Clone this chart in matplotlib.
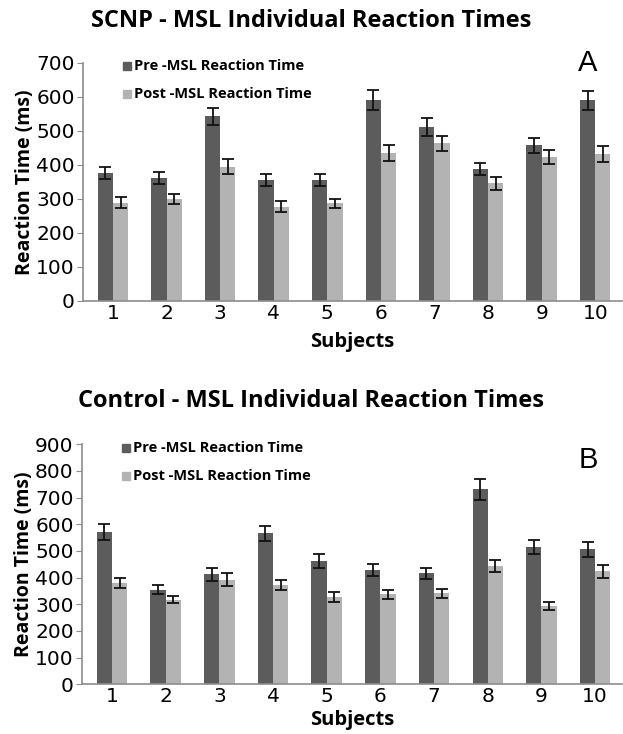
import numpy as np
import matplotlib
matplotlib.use("Agg")
import matplotlib.pyplot as plt

# ---- data ----
subjects = ["1", "2", "3", "4", "5", "6", "7", "8", "9", "10"]

scnp_pre = [376, 361, 542, 355, 355, 590, 512, 387, 458, 589]
scnp_pre_err = [18, 18, 26, 17, 18, 30, 26, 18, 22, 29]
scnp_post = [289, 299, 395, 277, 287, 435, 464, 346, 424, 432]
scnp_post_err = [17, 14, 21, 16, 13, 23, 22, 19, 21, 23]

ctrl_pre = [572, 354, 412, 566, 463, 430, 416, 731, 516, 506]
ctrl_pre_err = [29, 17, 23, 29, 26, 23, 20, 38, 27, 27]
ctrl_post = [379, 318, 393, 372, 328, 338, 341, 444, 294, 424]
ctrl_post_err = [19, 14, 23, 19, 18, 17, 16, 22, 14, 25]

legend_labels = ["Pre -MSL Reaction Time", "Post -MSL Reaction Time"]

PRE_COL = "#5c5c5c"
POST_COL = "#b3b3b3"
LABEL_FONT = ["Open Sans", "DejaVu Sans"]

W, H = 623, 734
fig = plt.figure(figsize=(W / 100, H / 100), dpi=100)


def px_axes(left, top, right, bottom):
    # axes box from pixel coordinates (top-left origin)
    return fig.add_axes([left / W, 1 - bottom / H, (right - left) / W, (bottom - top) / H])


def panel(ax, pre, pre_err, post, post_err, ymax, letter, letter_y, leg_y, xpad):
    x = np.arange(1, len(subjects) + 1)
    width = 0.285
    ax.bar(x - width / 2, pre, width, color=PRE_COL, zorder=2)
    ax.bar(x + width / 2, post, width, color=POST_COL, zorder=2)
    ax.errorbar(x - width / 2, pre, yerr=pre_err, fmt="none", ecolor="#111111",
                elinewidth=1.3, capsize=4, capthick=1.3, zorder=3)
    ax.errorbar(x + width / 2, post, yerr=post_err, fmt="none", ecolor="#111111",
                elinewidth=1.3, capsize=4, capthick=1.3, zorder=3)

    ax.set_xlim(0.44, 10.5)
    ax.set_ylim(0, ymax)
    ax.set_yticks(np.arange(0, ymax + 1, 100))
    ax.set_xticks(x)
    ax.set_xticklabels(subjects)
    for s in ["top", "right"]:
        ax.spines[s].set_visible(False)
    for s in ["left", "bottom"]:
        ax.spines[s].set_color("#8c8c8c")
        ax.spines[s].set_linewidth(1.2)
    ax.tick_params(axis="y", length=4, color="#8c8c8c", labelsize=14.5, pad=2)
    ax.tick_params(axis="x", length=0, labelsize=14.5, pad=2)
    for t in ax.get_xticklabels() + ax.get_yticklabels():
        t.set_family("DejaVu Sans")

    ax.set_ylabel("Reaction Time (ms)", fontsize=14, fontweight="bold",
                  family=LABEL_FONT, labelpad=1)
    ax.set_xlabel("Subjects", fontsize=14.5, fontweight="bold",
                  family=LABEL_FONT, labelpad=xpad)

    # legend as small squares + text
    for i, (lab, col) in enumerate(zip(legend_labels, [PRE_COL, POST_COL])):
        yy = leg_y[i]
        ax.plot([0.081], [yy], marker="s", markersize=6, color=col,
                transform=ax.transAxes, clip_on=False, linestyle="none")
        ax.text(0.094, yy, lab, transform=ax.transAxes, fontsize=10.5,
                fontweight="bold", va="center", ha="left", family=LABEL_FONT)

    ax.text(0.937, letter_y, letter, transform=ax.transAxes, fontsize=21,
            va="center", ha="center", family="Liberation Sans")


ax1 = px_axes(83, 62.7, 622, 301)
panel(ax1, scnp_pre, scnp_pre_err, scnp_post, scnp_post_err, 700, "A", 1.0,
      [0.985, 0.87], 7)
fig.text(0.5, 1 - 21 / H, "SCNP - MSL Individual Reaction Times", ha="center",
         va="center", fontsize=17, fontweight="bold", family=LABEL_FONT)

ax2 = px_axes(82, 444.3, 622, 684.3)
panel(ax2, ctrl_pre, ctrl_pre_err, ctrl_post, ctrl_post_err, 900, "B", 0.935,
      [0.985, 0.87], 3)
fig.text(0.5, 1 - 401 / H, "Control - MSL Individual Reaction Times", ha="center",
         va="center", fontsize=17, fontweight="bold", family=LABEL_FONT)

fig.savefig("out.png", dpi=100)
